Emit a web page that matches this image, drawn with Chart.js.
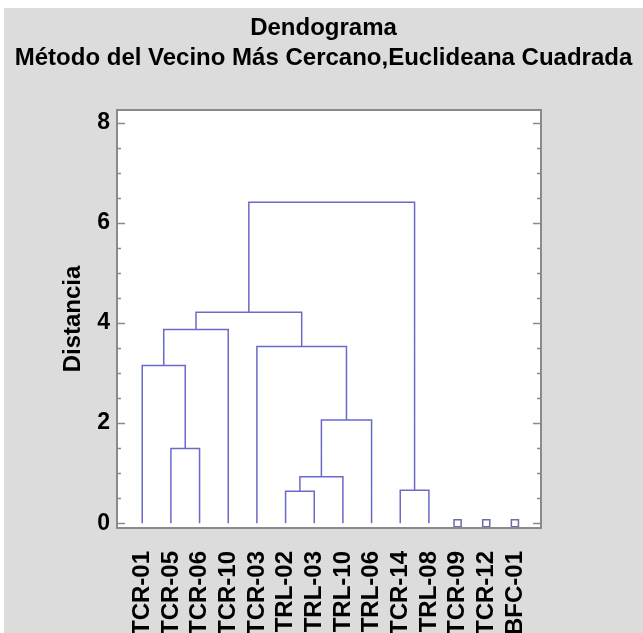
<!DOCTYPE html>
<html>
<head>
<meta charset="utf-8">
<script src="https://cdn.jsdelivr.net/npm/chart.js@4.4.1/dist/chart.umd.min.js"></script>
<style>
html, body { margin: 0; padding: 0; background: #fff; }
#wrap { position: absolute; left: 4px; top: 8px; }
</style>
</head>
<body>
<div id="wrap"><canvas id="c" width="639" height="625"></canvas></div>
<script>
// leaves in dendrogram order (also the x tick labels)
const leafLabels = ['TCR-01', 'TCR-05', 'TCR-06', 'TCR-10', 'TCR-03', 'TRL-02', 'TRL-03',
                    'TRL-10', 'TRL-06', 'TCR-14', 'TRL-08', 'TCR-09', 'TCR-12', 'BFC-01'];
// merges: node ids 0..13 are leaves, merge k makes node 14+k
const mergeLeft = [1, 0, 15, 5, 17, 18, 4, 16, 9, 21];
const mergeRight = [2, 14, 3, 6, 7, 8, 19, 20, 10, 22];
const mergeHeight = [1.49, 3.15, 3.87, 0.64, 0.93, 2.06, 3.53, 4.21, 0.66, 6.41];
// leaves left unjoined, drawn as squares
const singletons = [11, 12, 13];
const yLabels = [0, 2, 4, 6, 8];

const lineColor = '#6a6acb';
const font = "'Liberation Sans', Arial, sans-serif";

const nodeX = leafLabels.map((_, i) => i);
const nodeY = leafLabels.map(() => 0);
const links = [];
mergeHeight.forEach((h, k) => {
  const a = mergeLeft[k], b = mergeRight[k];
  links.push({x: nodeX[a], y: nodeY[a]}, {x: nodeX[a], y: h},
             {x: nodeX[b], y: h}, {x: nodeX[b], y: nodeY[b]},
             {x: nodeX[b], y: null});
  nodeX.push((nodeX[a] + nodeX[b]) / 2);
  nodeY.push(h);
});
const singlePts = singletons.map(i => ({x: i, y: 0}));

const frame = {
  id: 'frame',
  beforeDraw(chart) {
    const {ctx, chartArea: a} = chart;
    ctx.save();
    ctx.fillStyle = '#dcdcdc';
    ctx.fillRect(0, 0, chart.width, chart.height);
    ctx.fillStyle = '#fff';
    ctx.fillRect(a.left, a.top, a.right - a.left, a.bottom - a.top);
    ctx.restore();
  },
  afterDraw(chart) {
    const {ctx, chartArea: a} = chart;
    const ys = chart.scales.y;
    ctx.save();
    ctx.strokeStyle = '#8a8a8a';
    ctx.lineWidth = 1.5;
    for (let v = 0; v <= 8; v += 0.5) {
      const py = Math.round(ys.getPixelForValue(v)) + 0.5;
      const len = v % 2 === 0 ? 8 : 4;
      ctx.beginPath();
      ctx.moveTo(a.left, py); ctx.lineTo(a.left + len, py);
      ctx.moveTo(a.right, py); ctx.lineTo(a.right - len, py);
      ctx.stroke();
    }
    ctx.lineWidth = 2;
    ctx.strokeRect(a.left, a.top, a.right - a.left, a.bottom - a.top);
    ctx.restore();
  }
};

new Chart(document.getElementById('c'), {
  type: 'line',
  data: {
    datasets: [
      {
        data: links,
        borderColor: lineColor,
        borderWidth: 1.5,
        pointRadius: 0,
        spanGaps: false,
        tension: 0
      },
      {
        type: 'scatter',
        data: singlePts,
        clip: false,
        pointStyle: 'rect',
        pointRadius: 5,
        borderWidth: 1.5,
        borderColor: '#6c6ca8',
        backgroundColor: '#fff',
        showLine: false
      }
    ]
  },
  options: {
    responsive: false,
    animation: false,
    layout: {padding: 0},
    plugins: {
      legend: {display: false},
      tooltip: {enabled: false},
      title: {
        display: true,
        text: ['Dendograma', 'Método del Vecino Más Cercano,Euclideana Cuadrada'],
        color: '#000',
        font: {family: font, size: 24, weight: 'bold', lineHeight: 1.25},
        padding: {top: 5, bottom: 37}
      }
    },
    scales: {
      x: {
        type: 'linear',
        min: -0.88,
        max: 13.91,
        afterFit(s) { s.height = 105; },
        grid: {display: false, drawTicks: false},
        border: {display: false},
        ticks: {
          stepSize: 1,
          autoSkip: false,
          includeBounds: false,
          minRotation: 90,
          maxRotation: 90,
          padding: 23,
          color: '#000',
          font: {family: font, size: 24, weight: 'bold'},
          callback: v => leafLabels[v] ?? ''
        }
      },
      y: {
        min: -0.095,
        max: 8.25,
        afterFit(s) { s.width = 113; },
        grid: {display: false, drawTicks: false},
        border: {display: false},
        title: {
          display: true,
          text: 'Distancia',
          color: '#000',
          font: {family: font, size: 24, weight: 'bold'},
          padding: {top: 55, bottom: 0}
        },
        ticks: {
          stepSize: 2,
          includeBounds: false,
          padding: 7,
          color: '#000',
          font: {family: font, size: 23, weight: 'bold'},
          callback: v => yLabels.includes(v) ? String(v) : ''
        }
      },
      // empty right-hand axis, only reserves the margin right of the plot
      y2: {
        position: 'right',
        afterFit(s) { s.width = 102; },
        grid: {display: false, drawTicks: false},
        border: {display: false},
        ticks: {display: false}
      }
    }
  },
  plugins: [frame]
});
</script>
</body>
</html>
